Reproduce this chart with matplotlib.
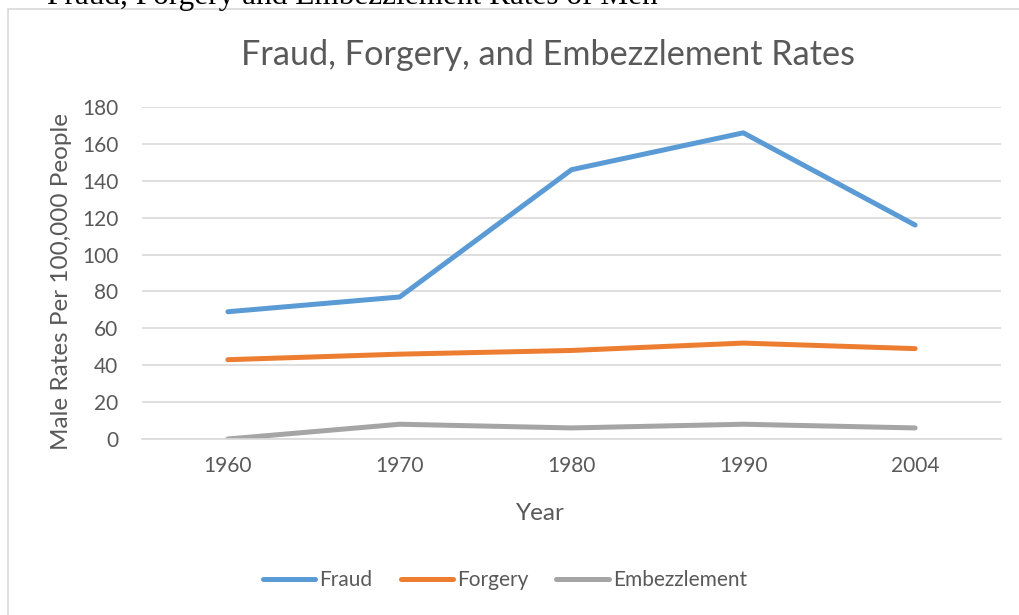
import matplotlib
matplotlib.use("Agg")
import matplotlib.pyplot as plt
from matplotlib.patches import Rectangle
from matplotlib.lines import Line2D

years = ["1960", "1970", "1980", "1990", "2004"]
fraud = [69, 77, 146, 166, 116]
forgery = [43, 46, 48, 52, 49]
embezzlement = [0, 8, 6, 8, 6]
series_names = ["Fraud", "Forgery", "Embezzlement"]
colors = ["#5B9BD5", "#ED7D31", "#A5A5A5"]

txt = "#595959"
grid = "#D9D9D9"
plt.rcParams['font.family'] = ['Lato', 'DejaVu Sans']

fig = plt.figure(figsize=(10.2, 6.15), dpi=100)
W, H = 1020, 615

# chart border
fig.patches.append(Rectangle((8 / W, -0.1), 1.2, 1 - 9 / H + 0.1, transform=fig.transFigure,
                             fill=False, edgecolor=grid, linewidth=1.2))

# cut-off caption at top
fig.text(47 / W, 1 - 4 / H, "Fraud, Forgery and Embezzlement Rates of Men",
         family="Liberation Serif", fontsize=22.5, color="black", ha="left", va="baseline")

ax = fig.add_axes([142 / W, 1 - 439 / H, (1001 - 142) / W, (439 - 107) / H])
x = list(range(len(years)))
for vals, name, c in zip([fraud, forgery, embezzlement], series_names, colors):
    ax.plot(x, vals, color=c, linewidth=3.6, solid_capstyle="round", label=name)

ax.set_xlim(-0.5, len(years) - 0.5)
ax.set_ylim(0, 180)
ax.set_yticks(range(0, 181, 20))
ax.set_xticks(x)
ax.set_xticklabels(years)
ax.tick_params(axis="both", length=0, labelsize=15, colors=txt)
ax.tick_params(axis="y", pad=17)
ax.tick_params(axis="x", pad=12)
for s in ["top", "right", "left"]:
    ax.spines[s].set_visible(False)
ax.spines["bottom"].set_color(grid)
ax.spines["bottom"].set_linewidth(1.2)
ax.grid(axis="y", color=grid, linewidth=1.2)
ax.set_axisbelow(True)

fig.text(62 / W, 1 - 282 / H, "Male Rates Per 100,000 People", rotation=90,
         ha="center", va="center", fontsize=17.5, color=txt)
fig.text(540 / W, 1 - 513 / H, "Year", ha="center", va="center", fontsize=17.5, color=txt)
fig.text(548 / W, 1 - 55 / H, "Fraud, Forgery, and Embezzlement Rates", ha="center",
         va="center", fontsize=24.7, color=txt)

handles = [Line2D([0], [0], color=c, linewidth=3.6, solid_capstyle="round") for c in colors]
fig.legend(handles, series_names, loc="center", bbox_to_anchor=(505 / W, 1 - 580 / H),
           ncol=3, frameon=False, fontsize=15, labelcolor=txt, handlelength=2.5,
           handletextpad=0.2, columnspacing=1.35)

fig.savefig("out.png", dpi=100)
